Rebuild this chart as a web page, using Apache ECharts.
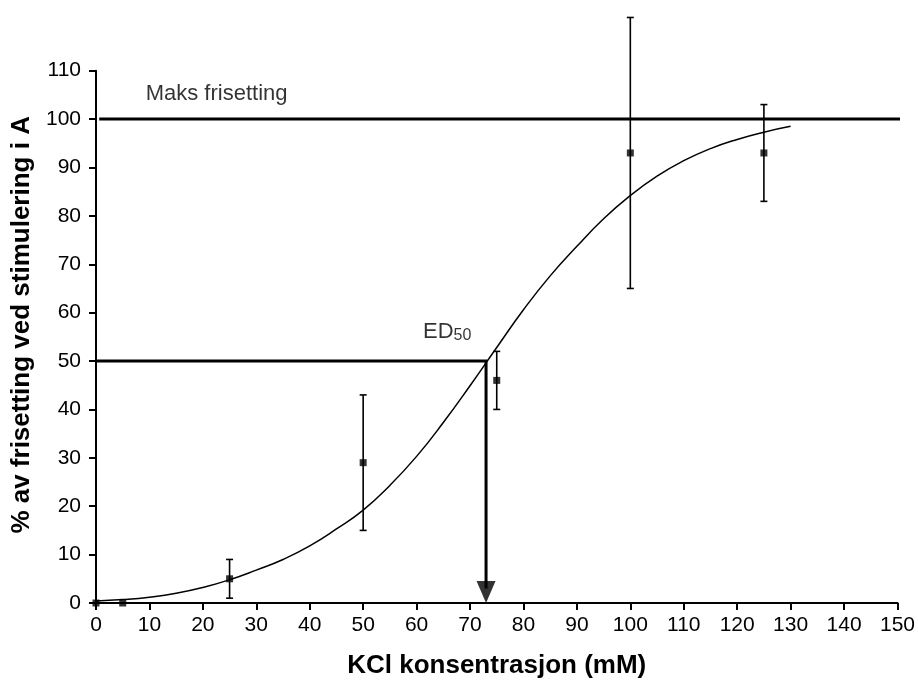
<!DOCTYPE html>
<html>
<head>
<meta charset="utf-8">
<script src="https://cdn.jsdelivr.net/npm/echarts@6/dist/echarts.min.js"></script>
<style>
  html, body { margin: 0; padding: 0; background: #fff; }
  #chart { width: 918px; height: 684px; }
</style>
</head>
<body>
<div id="chart"></div>
<script>
// KCl concentration (mM) of each measurement and mean release (%)
const concentrations = [0, 5, 25, 50, 75, 100, 125];
const meanRelease = [0, 0, 5, 29, 46, 93, 93];
// error bar limits (lower, upper) for the points that have them
const errConc = [25, 50, 75, 100, 125];
const errLow = [1, 15, 40, 65, 83];
const errHigh = [9, 43, 52, 121, 103];

// fitted dose-response curve
const curveConc = [0, 5, 10, 15, 20, 25, 30, 35, 40, 45, 50, 55, 60, 65, 70,
  75, 80, 85, 90, 95, 100, 105, 110, 115, 120, 125, 130];
const curveRelease = [0.4, 0.7, 1.2, 2.0, 3.2, 4.8, 6.8, 9.0, 11.8, 15.3, 19.2,
  24.3, 30.3, 37.3, 44.9, 52.8, 60.6, 67.6, 73.7, 79.4, 84.2, 88.2, 91.4, 93.9,
  95.8, 97.3, 98.5];

// reference levels
const maxLevel = 100;
const maxLineConc = [0.6, 153];
const ed50Conc = 73;
const ed50Level = 50;
const arrowShaftEnd = 3;

// axis ticks
const xTicks = { min: 0, max: 150, step: 10 };
const yTicks = { min: 0, max: 110, step: 10 };

const FONT = '"Liberation Sans", Arial, sans-serif';
const INK = '#000';

const chart = echarts.init(document.getElementById('chart'), null, { renderer: 'canvas' });

const axisCommon = {
  type: 'value',
  axisLine: { show: true, onZero: false, lineStyle: { color: INK, width: 2 } },
  axisTick: { show: true, length: 7, lineStyle: { color: INK, width: 2 } },
  splitLine: { show: false },
  nameTextStyle: { fontFamily: FONT, fontWeight: 'bold', fontSize: 26, color: INK }
};

chart.setOption({
  animation: false,
  backgroundColor: '#fff',
  grid: { left: 96, right: 20, top: 70.7, bottom: 79, containLabel: false },
  xAxis: Object.assign({}, axisCommon, {
    min: xTicks.min, max: xTicks.max, interval: xTicks.step,
    name: 'KCl konsentrasjon (mM)',
    nameLocation: 'middle',
    nameGap: 50,
    axisLabel: { fontFamily: FONT, fontSize: 21, color: INK, margin: 12 }
  }),
  yAxis: Object.assign({}, axisCommon, {
    min: yTicks.min, max: yTicks.max, interval: yTicks.step,
    name: '% av frisetting ved stimulering i A',
    nameLocation: 'middle',
    nameGap: 61,
    nameTextStyle: Object.assign({}, axisCommon.nameTextStyle, { padding: [0, 0, 0, 24] }),
    axisLabel: { fontFamily: FONT, fontSize: 21, color: INK, margin: 15 }
  }),
  series: [
    {
      // maximal release level
      type: 'line',
      data: maxLineConc.map(c => [c, maxLevel]),
      symbol: 'none',
      clip: false,
      lineStyle: { color: INK, width: 3 },
      z: 3
    },
    {
      // fitted curve
      type: 'line',
      data: curveConc.map((c, i) => [c, curveRelease[i]]),
      smooth: 0.5,
      symbol: 'none',
      clip: false,
      lineStyle: { color: INK, width: 1.5 },
      z: 4
    },
    {
      // ED50 guide: horizontal then down to the axis
      type: 'line',
      data: [[0, ed50Level], [ed50Conc, ed50Level], [ed50Conc, arrowShaftEnd]],
      symbol: 'none',
      clip: false,
      lineStyle: { color: INK, width: 3, join: 'miter', cap: 'butt' },
      z: 3
    },
    {
      // arrow head
      type: 'scatter',
      data: [[ed50Conc, 0]],
      symbol: 'path://M0,0 L20,0 L10,22 Z',
      symbolSize: [19, 22],
      symbolOffset: [0, '-50%'],
      itemStyle: { color: INK },
      clip: false,
      z: 5
    },
    {
      // error bars
      type: 'custom',
      clip: false,
      data: errConc.map((c, i) => [c, errLow[i], errHigh[i]]),
      renderItem: function (params, api) {
        const lo = api.coord([api.value(0), api.value(1)]);
        const hi = api.coord([api.value(0), api.value(2)]);
        const cap = 3.5;
        const style = { stroke: INK, lineWidth: 1.6, fill: null };
        return {
          type: 'group',
          children: [
            { type: 'line', shape: { x1: lo[0], y1: lo[1], x2: hi[0], y2: hi[1] }, style: style },
            { type: 'line', shape: { x1: lo[0] - cap, y1: lo[1], x2: lo[0] + cap, y2: lo[1] }, style: style },
            { type: 'line', shape: { x1: hi[0] - cap, y1: hi[1], x2: hi[0] + cap, y2: hi[1] }, style: style }
          ]
        };
      },
      z: 5
    },
    {
      // measured means
      type: 'scatter',
      data: concentrations.map((c, i) => [c, meanRelease[i]]),
      symbol: 'rect',
      symbolSize: 7,
      itemStyle: { color: INK },
      clip: false,
      z: 6
    },
    {
      // text annotations
      type: 'scatter',
      symbolSize: 0,
      clip: false,
      silent: true,
      z: 7,
      data: [
        {
          value: [9.3, 107.45],
          label: {
            show: true, position: [0, 0], align: 'left', verticalAlign: 'top',
            formatter: 'Maks frisetting',
            fontFamily: FONT, fontSize: 22, lineHeight: 22, color: INK
          }
        },
        {
          value: [61.2, 58.25],
          label: {
            show: true, position: [0, 0], align: 'left', verticalAlign: 'top',
            formatter: '{a|ED}{b|50}',
            rich: {
              a: { fontFamily: FONT, fontSize: 22, lineHeight: 22, color: INK, verticalAlign: 'top' },
              b: { fontFamily: FONT, fontSize: 16, lineHeight: 16, color: INK, verticalAlign: 'bottom', padding: [9, 0, 0, 0] }
            }
          }
        }
      ]
    }
  ]
});
</script>
</body>
</html>
